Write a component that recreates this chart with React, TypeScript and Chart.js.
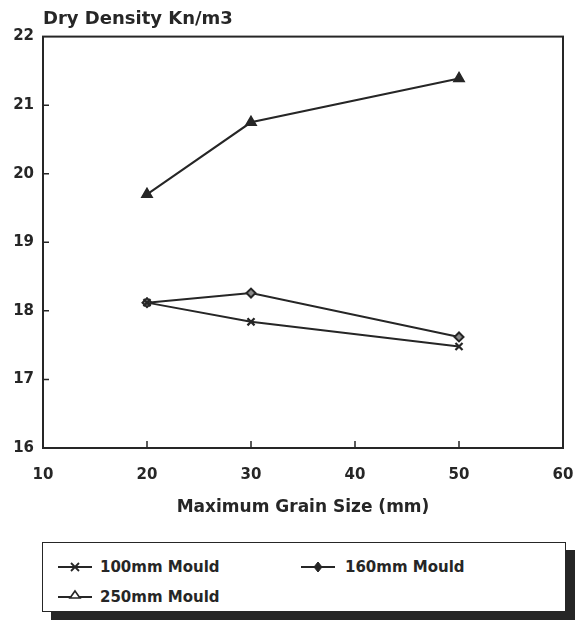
import React, { useEffect, useRef } from "react";
import { Chart, registerables } from "chart.js";

Chart.register(...registerables);

// ---- data ----
const grainSizes = [20, 30, 50];
const mould100 = [18.12, 17.84, 17.48];
const mould160 = [18.12, 18.26, 17.62];
const mould250 = [19.7, 20.75, 21.39];
const xTickValues = [10, 20, 30, 40, 50, 60];
const yTickValues = [16, 17, 18, 19, 20, 21, 22];
const seriesNames = ["100mm Mould", "160mm Mould", "250mm Mould"];
const yAxisTitle = "Dry Density Kn/m3";
const xAxisTitle = "Maximum Grain Size (mm)";

const INK = "#262626";
const FONT = "'DejaVu Sans', 'Liberation Sans', sans-serif";

const framePlugin = {
  id: "frame",
  beforeDatasetsDraw(chart: any) {
    const { ctx, chartArea, scales } = chart;
    const { left, right, top, bottom } = chartArea;
    ctx.save();
    ctx.strokeStyle = INK;
    ctx.lineWidth = 2;
    ctx.strokeRect(left, top, right - left, bottom - top);
    ctx.lineWidth = 1.5;
    ctx.beginPath();
    yTickValues.slice(1, -1).forEach((v) => {
      const y = scales.y.getPixelForValue(v);
      ctx.moveTo(left, y);
      ctx.lineTo(left + 6, y);
    });
    xTickValues.slice(1, -1).forEach((v) => {
      const x = scales.x.getPixelForValue(v);
      ctx.moveTo(x, bottom);
      ctx.lineTo(x, bottom - 7);
    });
    ctx.stroke();
    ctx.restore();
  },
};

function toPoints(ys: number[]) {
  return grainSizes.map((x, i) => ({ x, y: ys[i] }));
}

function LegendSymbol({ kind }: { kind: string }) {
  return (
    <svg width="34" height="14" style={{ position: "absolute", left: 0, top: 0 }}>
      <line x1="0" y1="8" x2="34" y2="8" stroke={INK} strokeWidth="1.8" />
      {kind === "cross" && (
        <path d="M13 4 L21 12 M21 4 L13 12" stroke={INK} strokeWidth="1.8" />
      )}
      {kind === "diamond" && (
        <path d="M17 3 L21 8 L17 13 L13 8 Z" fill={INK} stroke={INK} strokeWidth="1" />
      )}
      {kind === "triangle" && (
        <path d="M17 2 L22 9 L12 9 Z" fill="white" stroke={INK} strokeWidth="1.6" />
      )}
    </svg>
  );
}

export default function App() {
  const canvasRef = useRef<HTMLCanvasElement | null>(null);

  useEffect(() => {
    const canvas = canvasRef.current;
    if (!canvas) return;
    const chart = new Chart(canvas, {
      type: "scatter",
      data: {
        datasets: [
          {
            label: seriesNames[0],
            data: toPoints(mould100),
            showLine: true,
            borderColor: INK,
            backgroundColor: INK,
            borderWidth: 2,
            pointStyle: "crossRot",
            pointRadius: 5,
            pointBorderWidth: 2.2,
          },
          {
            label: seriesNames[1],
            data: toPoints(mould160),
            showLine: true,
            borderColor: INK,
            backgroundColor: "#8a8a8a",
            borderWidth: 2,
            pointStyle: "rectRot",
            pointRadius: 4.5,
            pointBorderWidth: 2,
          },
          {
            label: seriesNames[2],
            data: toPoints(mould250),
            showLine: true,
            borderColor: INK,
            backgroundColor: INK,
            borderWidth: 2,
            pointStyle: "triangle",
            pointRadius: 6,
            pointBorderWidth: 1.5,
          },
        ],
      },
      options: {
        responsive: false,
        animation: false,
        devicePixelRatio: 1,
        layout: { padding: { top: 5, right: 20, bottom: 0, left: 0 } },
        plugins: {
          legend: { display: false },
          tooltip: { enabled: false },
          title: {
            display: true,
            text: yAxisTitle,
            align: "start",
            fullSize: false,
            color: INK,
            font: { family: FONT, size: 18, weight: "bold" },
            padding: { top: 4, bottom: 6 },
          },
        },
        scales: {
          x: {
            type: "linear",
            min: 10,
            max: 60,
            afterBuildTicks: (s: any) => {
              s.ticks = xTickValues.map((v) => ({ value: v }));
            },
            afterFit: (s: any) => {
              s.height = 82;
              s.paddingLeft = 0;
              s.paddingRight = 0;
            },
            grid: { display: false, drawTicks: false },
            border: { display: false },
            ticks: {
              color: INK,
              padding: 18,
              maxRotation: 0,
              autoSkip: false,
              font: { family: FONT, size: 15, weight: "bold" },
              callback: (v: any) => String(v),
            },
            title: {
              display: true,
              text: xAxisTitle,
              color: INK,
              font: { family: FONT, size: 17, weight: "bold" },
              padding: { top: 0, bottom: 12 },
            },
          },
          y: {
            type: "linear",
            min: 16,
            max: 22,
            afterBuildTicks: (s: any) => {
              s.ticks = yTickValues.map((v) => ({ value: v }));
            },
            afterFit: (s: any) => {
              s.width = 43;
              s.paddingTop = 0;
              s.paddingBottom = 0;
            },
            grid: { display: false, drawTicks: false },
            border: { display: false },
            ticks: {
              color: INK,
              padding: 9,
              autoSkip: false,
              font: { family: FONT, size: 15, weight: "bold" },
              callback: (v: any) => String(v),
            },
          },
        },
      },
      plugins: [framePlugin],
    } as any);
    return () => chart.destroy();
  }, []);

  const textStyle: React.CSSProperties = {
    position: "absolute",
    fontFamily: FONT,
    fontWeight: "bold",
    fontSize: "15px",
    color: INK,
    lineHeight: "18px",
    whiteSpace: "nowrap",
  };

  return (
    <div
      style={{
        position: "absolute",
        left: 0,
        top: 0,
        width: 583,
        height: 624,
        background: "#ffffff",
        overflow: "hidden",
      }}
    >
      <canvas
        ref={canvasRef}
        width={583}
        height={530}
        style={{ position: "absolute", left: 0, top: 0, width: 583, height: 530 }}
      />
      <div
        style={{
          position: "absolute",
          left: 42,
          top: 542,
          width: 524,
          height: 70,
          boxSizing: "border-box",
          border: `1.5px solid ${INK}`,
          boxShadow: `9px 8px 0 ${INK}`,
          background: "#ffffff",
        }}
      >
        <div style={{ position: "absolute", left: 15, top: 16, width: 34, height: 14 }}>
          <LegendSymbol kind="cross" />
        </div>
        <div style={{ ...textStyle, left: 57, top: 15 }}>{seriesNames[0]}</div>
        <div style={{ position: "absolute", left: 258, top: 16, width: 34, height: 14 }}>
          <LegendSymbol kind="diamond" />
        </div>
        <div style={{ ...textStyle, left: 302, top: 15 }}>{seriesNames[1]}</div>
        <div style={{ position: "absolute", left: 15, top: 46, width: 34, height: 14 }}>
          <LegendSymbol kind="triangle" />
        </div>
        <div style={{ ...textStyle, left: 57, top: 45 }}>{seriesNames[2]}</div>
      </div>
    </div>
  );
}
